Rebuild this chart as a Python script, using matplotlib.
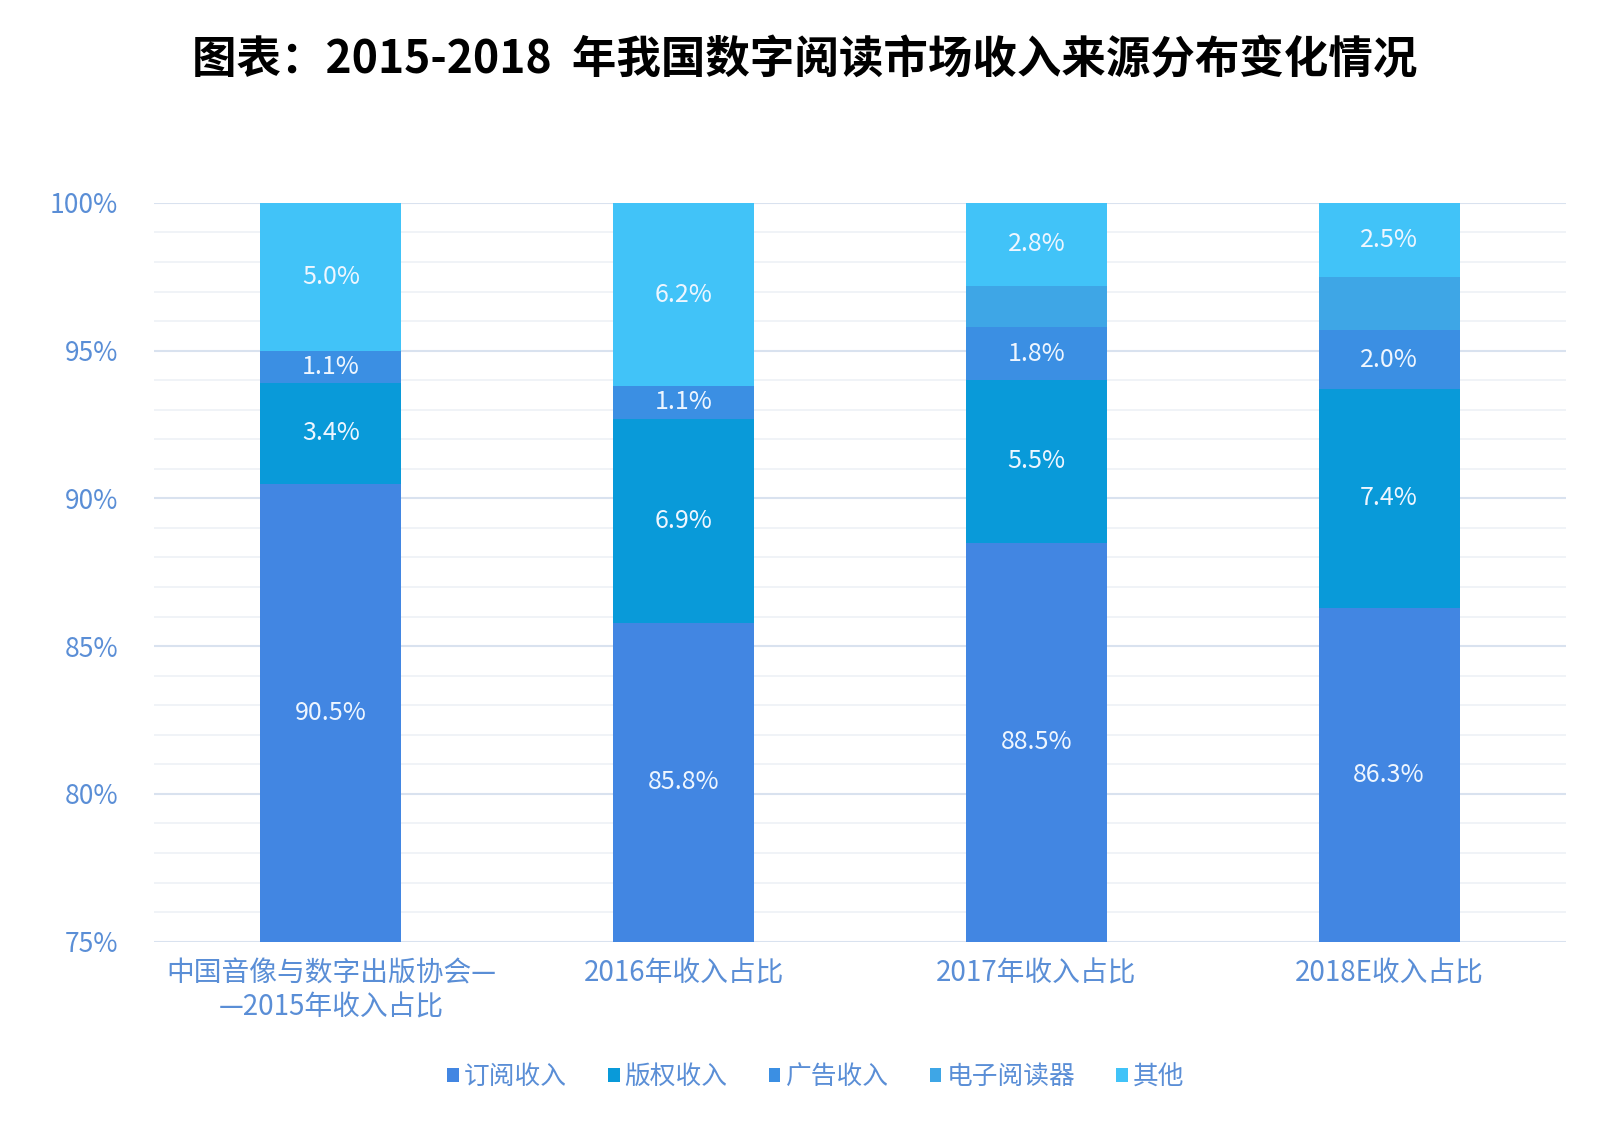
import matplotlib
matplotlib.use("Agg")
import matplotlib.pyplot as plt
import numpy as np

plt.rcParams['font.family'] = ['Noto Sans CJK SC', 'DejaVu Sans']

# 数据
categories = ["中国音像与数字出版协会—\n—2015年收入占比", "2016年收入占比", "2017年收入占比", "2018E收入占比"]
series_names = ["订阅收入", "版权收入", "广告收入", "电子阅读器", "其他"]
subscription = [90.5, 85.8, 88.5, 86.3]
copyright_ = [3.4, 6.9, 5.5, 7.4]
advert = [1.1, 1.1, 1.8, 2.0]
reader = [0.0, 0.0, 1.4, 1.8]
others = [5.0, 6.2, 2.8, 2.5]
show_label = [True, True, True, False, True]

colors = ["#4286e2", "#099ad9", "#3b8fe3", "#3ea6e6", "#41c3f8"]
tick_color = "#5a8ed6"

fig = plt.figure(figsize=(16.09, 11.21), dpi=100)
ax = fig.add_axes([0.096, 0.160, 0.877, 0.659])

x = np.arange(len(categories))
bottom = np.zeros(len(categories))
all_series = [subscription, copyright_, advert, reader, others]
for name, vals, col, lab in zip(series_names, all_series, colors, show_label):
    vals = np.array(vals)
    ax.bar(x, vals, 0.4, bottom=bottom, color=col, label=name, zorder=3)
    if lab:
        for xi, b, v in zip(x, bottom, vals):
            if v <= 0:
                continue
            yc = b + v / 2
            if yc < 75:
                yc = (max(b, 75) + b + v) / 2
            ax.text(xi, yc, f"{v:.1f}%", ha="center", va="center",
                    color="#eef6ff", fontsize=18, zorder=4)
    bottom += vals

ax.set_ylim(75, 100)
ax.set_xlim(-0.5, 3.5)
ax.set_yticks(np.arange(75, 101, 5))
ax.set_yticklabels([f"{v}%" for v in range(75, 101, 5)])
ax.set_yticks(np.arange(75, 101, 1), minor=True)
ax.set_xticks(x)
ax.set_xticklabels(categories)

ax.grid(axis="y", which="major", color="#d9e2ef", linewidth=1.5, zorder=0)
ax.grid(axis="y", which="minor", color="#eef1f6", linewidth=1.2, zorder=0)
for s in ax.spines.values():
    s.set_visible(False)
ax.tick_params(axis="both", which="both", length=0)
ax.tick_params(axis="y", labelsize=19, labelcolor=tick_color, pad=26)
ax.tick_params(axis="x", labelsize=20, labelcolor=tick_color, pad=12)

fig.suptitle("图表：2015-2018  年我国数字阅读市场收入来源分布变化情况",
             fontsize=32, fontweight="black", y=0.967)

fig.legend(loc="center", bbox_to_anchor=(0.507, 0.039), ncol=5, frameon=False,
           fontsize=18.5, handlelength=0.45, handleheight=0.45, handletextpad=0.2,
           columnspacing=1.6, labelcolor=tick_color)

fig.savefig("out.png", dpi=100)
